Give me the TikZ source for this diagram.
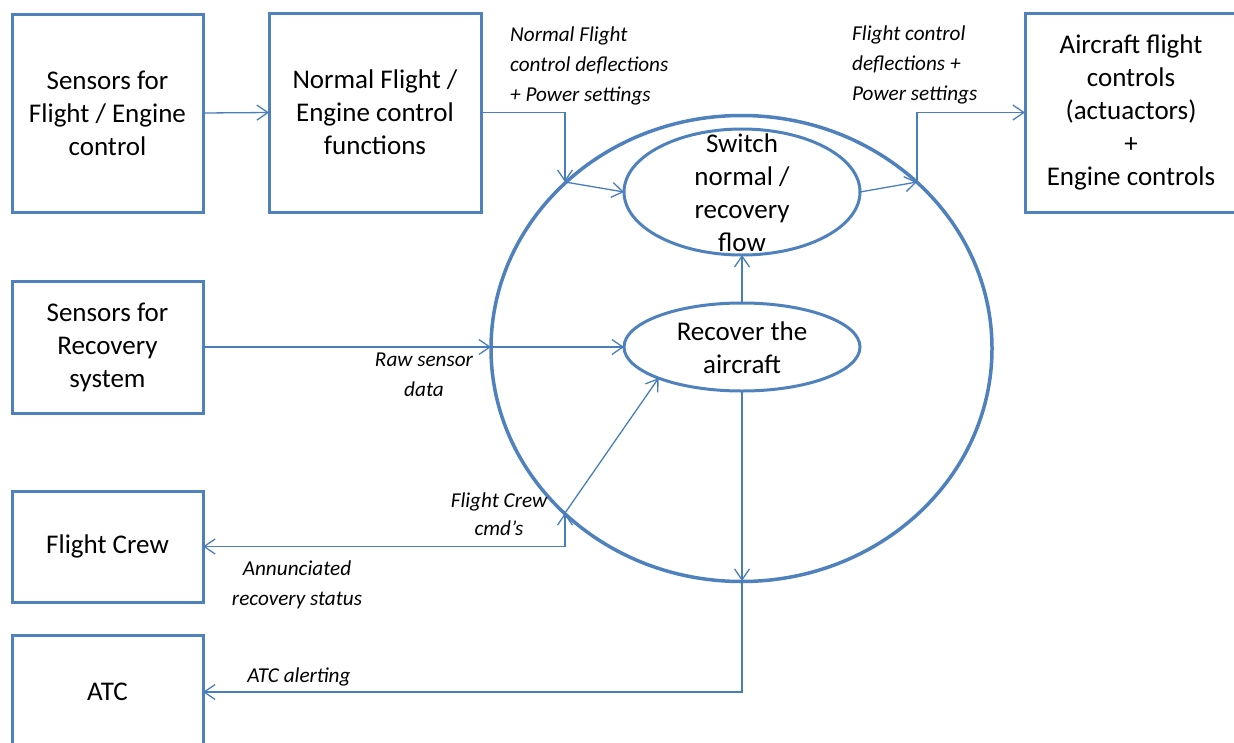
\documentclass[tikz,border=0pt]{standalone}
\usepackage{fontspec}
\setmainfont{Carlito}
\usetikzlibrary{shapes.geometric,arrows.meta}
\definecolor{boxblue}{HTML}{4F81BD}
\definecolor{linkblue}{HTML}{4A7EBB}
\begin{document}
\begin{tikzpicture}[x=1pt,y=-1pt,
  box/.style={draw=boxblue,line width=3pt,rectangle,inner sep=0pt,outer sep=0pt,
    align=center,font=\fontsize{27}{33}\selectfont},
  oval/.style={draw=boxblue,line width=3pt,ellipse,inner sep=0pt,outer sep=0pt},
  ovaltext/.style={align=center,font=\fontsize{27}{33}\selectfont,inner sep=0pt},
  flow/.style={draw=linkblue,line width=1.3pt,-{Straight Barb[length=11pt,width=15pt]}},
  tag/.style={font=\fontsize{21.2}{30}\selectfont\itshape,inner sep=0pt}
]
\useasboundingbox (0,0) rectangle (1234,742);

% system boundary
\node[oval,line width=3.5pt,minimum width=501pt,minimum height=466pt] (bnd) at (741.5,348.5) {};

% external blocks
\node[box,minimum width=191pt,minimum height=198pt] (s1) at (107.5,113)
  {Sensors for\\Flight / Engine\\control};
\node[box,minimum width=212pt,minimum height=199pt] (nf) at (375,112.5)
  {Normal Flight /\\Engine control\\functions};
\node[box,minimum width=212pt,minimum height=199pt] (afc) at (1131,112.5)
  {Aircraft flight\\controls\\(actuactors)\\+\\Engine controls};
\node[box,minimum width=191pt,minimum height=132pt] (rs) at (107.5,347)
  {Sensors for\\Recovery\\system};
\node[box,minimum width=191pt,minimum height=111pt] (fc) at (107.5,546.5)
  {Flight Crew};
\node[box,minimum width=191pt,minimum height=114pt] (atc) at (107.5,692)
  {ATC};

% internal functions
\node[oval,minimum width=236pt,minimum height=126pt] (sw) at (742,192) {};
\node[ovaltext] (swt) at (742,193) {Switch\\normal /\\recovery\\flow};
\node[oval,minimum width=236pt,minimum height=88pt] (rec) at (742,347) {};
\node[ovaltext] (rect) at (742,348) {Recover the\\aircraft};

% crossing points on the boundary
\coordinate (c1) at (565,182);
\coordinate (c2) at (917,182);
\coordinate (c3) at (491,347);
\coordinate (c4) at (565,513);
\coordinate (c5) at (742,581);

% flows
\draw[flow] (s1.east) -- (nf.west);
\draw[flow] (nf.east) -| (c1);
\draw[flow] (c1) -- (sw.west);
\draw[flow] (sw.east) -- (c2);
\draw[flow] (c2) |- (afc.west);
\draw[flow] (rs.east) -- (c3);
\draw[flow] (c3) -- (rec.west);
\draw[flow] (rec.north) -- (sw.south);
\draw[flow] (fc.east) -| (c4);
\draw[flow] (c4) |- (fc.east);
\draw[flow] (c4) -- (rec.south west);
\draw[flow] (rec.south) -- (c5);
\draw[flow] (c5) |- (atc.east);

% flow labels
\node[tag,anchor=west,align=left] (l1) at (510,66)
  {Normal Flight\\control deflections\\+ Power settings};
\node[tag,anchor=west,align=left] (l2) at (852,65)
  {Flight control\\deflections +\\Power settings};
\node[tag,align=center] (l3) at (424,375) {Raw sensor\\data};
\node[tag,align=center,font=\fontsize{21.2}{28}\selectfont\itshape] (l4) at (499,514)
  {Flight Crew\\cmd’s};
\node[tag,align=center] (l5) at (297,585) {Annunciated\\recovery status};
\node[tag] (l6) at (299,677) {ATC alerting};
\end{tikzpicture}
\end{document}
